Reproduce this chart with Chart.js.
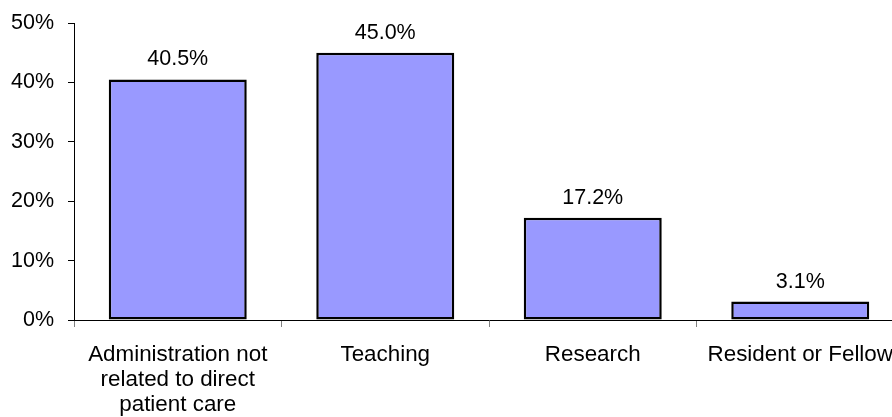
<!DOCTYPE html>
<html>
<head>
<meta charset="utf-8">
<script src="https://cdn.jsdelivr.net/npm/chart.js@4/dist/chart.umd.min.js"></script>
<style>
    html, body { margin: 0; padding: 0; background: #fff; overflow: hidden; }
    #wrap { position: relative; width: 910px; height: 417px; }
</style>
</head>
<body>
<div id="wrap"><canvas id="roleChart"></canvas></div>
<script>
const categories = [
    ['Administration not', 'related to direct', 'patient care'],
    'Teaching',
    'Research',
    'Resident or Fellow',
];
const percentValues = [40.5, 45.0, 17.2, 3.1];
const yTicks = [0, 10, 20, 30, 40, 50];

const fontFamily = '"Liberation Sans", Arial, sans-serif';

const valueLabels = {
    id: 'valueLabels',
    afterDatasetsDraw(chart) {
        const ctx = chart.ctx;
        const meta = chart.getDatasetMeta(0);
        ctx.save();
        ctx.font = '21.5px ' + fontFamily;
        ctx.fillStyle = '#000';
        ctx.textAlign = 'center';
        ctx.textBaseline = 'alphabetic';
        meta.data.forEach((bar, i) => {
            ctx.fillText(percentValues[i].toFixed(1) + '%', bar.x, bar.y - 14);
        });
        ctx.restore();
    },
};

function init() {
    const ctx = document.getElementById('roleChart').getContext('2d');
    new Chart(ctx, {
        type: 'bar',
        data: {
            labels: categories,
            datasets: [
                {
                    data: percentValues,
                    backgroundColor: '#9999ff',
                    borderColor: '#000',
                    borderWidth: 2.5,
                    borderSkipped: false,
                    categoryPercentage: 1,
                    barPercentage: 0.665,
                },
            ],
        },
        options: {
            responsive: true,
            maintainAspectRatio: false,
            animation: false,
            layout: {
                padding: { left: 10, right: 6, top: 0, bottom: 0 },
            },
            scales: {
                x: {
                    grid: {
                        offset: true,
                        drawOnChartArea: false,
                        drawTicks: true,
                        tickLength: 7,
                        color: '#808080',
                    },
                    border: { color: '#000', width: 1 },
                    ticks: {
                        color: '#000',
                        autoSkip: false,
                        maxRotation: 0,
                        padding: 15,
                        font: { family: fontFamily, size: 22.4, lineHeight: 1.12 },
                    },
                    afterFit: (scale) => {
                        scale.height = 97;
                    },
                },
                y: {
                    min: 0,
                    max: 50,
                    afterBuildTicks: (scale) => {
                        scale.ticks = yTicks.map((v) => ({ value: v }));
                    },
                    grid: {
                        drawOnChartArea: false,
                        drawTicks: true,
                        tickLength: 6,
                        color: '#000',
                    },
                    border: { color: '#000', width: 1 },
                    ticks: {
                        color: '#000',
                        padding: 14,
                        font: { family: fontFamily, size: 21.5, lineHeight: 0.84 },
                        callback: (value) => value + '%',
                    },
                    afterFit: (scale) => {
                        scale.width = 64;
                    },
                },
            },
            plugins: {
                legend: { display: false },
                tooltip: { enabled: false },
            },
        },
        plugins: [valueLabels],
    });
}

document.addEventListener('DOMContentLoaded', init);
</script>
</body>
</html>
